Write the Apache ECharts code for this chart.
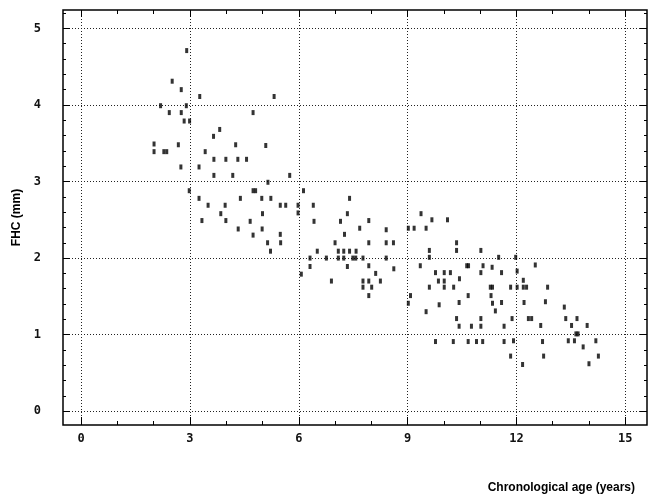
<!DOCTYPE html>
<html><head><meta charset="utf-8">
<script src="https://cdn.jsdelivr.net/npm/echarts@6/dist/echarts.min.js"></script>
<style>html,body{margin:0;padding:0;background:#fff}#c{width:648px;height:498px}</style>
</head><body><div id="c"></div>
<script>
const xTicks = [0, 3, 6, 9, 12, 15];
const xMinor = [1, 2, 4, 5, 7, 8, 10, 11, 13, 14];
const yTicks = [0, 1, 2, 3, 4, 5];
const yMinor = [0.2, 0.4, 0.6, 0.8, 1.2, 1.4, 1.6, 1.8, 2.2, 2.4, 2.6, 2.8, 3.2, 3.4, 3.6, 3.8, 4.2, 4.4, 4.6, 4.8, 5.2];
const xTitle = 'Chronological age (years)';
const yTitle = 'FHC (mm)';

const ages = [2.91,2.51,2.76,3.27,2.19,2.90,4.74,2.43,2.76,2.84,2.99,3.82,3.65,2.01,2.68,4.26,5.09,2.01,2.28,2.36,3.42,3.66,3.99,4.32,4.56,
5.32,2.75,3.25,3.66,4.18,5.15,2.98,4.74,4.81,3.25,4.39,4.98,5.23,3.50,3.97,3.85,5.00,3.33,3.99,4.66,4.33,4.99,4.74,5.14,
5.75,6.13,5.49,5.64,5.98,6.40,7.40,5.98,7.34,6.42,7.15,7.93,7.68,8.41,5.49,7.26,5.50,7.00,7.93,8.41,8.61,5.22,6.51,7.09,7.24,7.40,7.58,
6.31,6.76,7.09,7.24,7.49,7.57,7.77,8.41,6.31,7.34,7.93,8.62,6.07,8.12,6.90,7.77,7.93,8.25,7.77,8.01,7.93,
9.37,9.67,10.10,9.02,9.18,9.51,10.35,9.60,10.35,11.02,9.60,11.51,11.98,9.35,10.63,10.68,11.08,11.33,12.02,9.77,10.01,10.18,11.02,11.59,
10.43,9.85,10.01,9.60,10.01,10.27,11.28,11.34,11.84,12.02,10.67,9.08,9.02,9.87,10.42,11.34,11.59,11.42,9.51,10.35,11.02,11.88,
10.42,10.76,11.02,11.66,9.77,10.26,10.67,10.90,11.07,11.66,11.92,11.84,11.30,
12.52,12.19,12.19,12.28,12.86,12.21,12.80,13.32,12.33,12.42,13.36,13.67,12.67,13.52,13.95,13.64,13.70,12.72,13.43,13.60,14.19,13.84,12.75,14.26,12.17,14.00];
const fhc = [4.71,4.31,4.20,4.11,3.99,3.99,3.90,3.90,3.90,3.79,3.79,3.68,3.59,3.49,3.48,3.48,3.47,3.39,3.39,3.39,3.39,3.29,3.29,3.29,3.29,
4.11,3.19,3.19,3.08,3.08,2.99,2.88,2.88,2.88,2.78,2.78,2.78,2.78,2.69,2.69,2.58,2.58,2.49,2.49,2.48,2.38,2.38,2.30,2.20,
3.08,2.88,2.69,2.69,2.69,2.69,2.78,2.59,2.58,2.48,2.48,2.49,2.39,2.37,2.31,2.31,2.20,2.20,2.20,2.20,2.20,2.09,2.09,2.09,2.09,2.09,2.09,
2.00,2.00,2.00,2.00,2.00,2.00,2.00,2.00,1.89,1.89,1.90,1.86,1.79,1.80,1.70,1.70,1.70,1.70,1.62,1.62,1.51,
2.58,2.50,2.50,2.39,2.39,2.39,2.20,2.10,2.10,2.10,2.01,2.01,2.01,1.90,1.90,1.90,1.90,1.88,1.83,1.81,1.81,1.81,1.81,1.81,
1.73,1.70,1.70,1.62,1.62,1.62,1.62,1.62,1.62,1.62,1.51,1.51,1.41,1.39,1.42,1.41,1.42,1.31,1.30,1.21,1.21,1.21,
1.11,1.11,1.11,1.11,0.91,0.91,0.91,0.91,0.91,0.91,0.92,0.72,1.51,
1.91,1.71,1.62,1.62,1.62,1.42,1.43,1.36,1.21,1.21,1.21,1.21,1.12,1.12,1.12,1.01,1.01,0.91,0.92,0.92,0.92,0.84,0.72,0.72,0.61,0.62];

const points = ages.map((a, i) => [a, fhc[i]]);

const labelFont = {fontFamily: 'DejaVu Sans Mono', fontWeight: 'bold', fontSize: 12, color: '#111'};
const dotted = {show: true, lineStyle: {color: '#222', type: [1, 2], width: 1}};
const X_MIN = -0.5, X_MAX = 15.6, Y_MIN = -0.18, Y_MAX = 5.24;

function xAx(pos, vals, len, withLabel) {
  return {
    type: 'value', position: pos, min: X_MIN, max: X_MAX,
    axisLine: {show: false, onZero: false},
    axisTick: {show: true, inside: true, length: len, customValues: vals, lineStyle: {color: '#000', width: 1}},
    axisLabel: withLabel ? Object.assign({show: true, customValues: vals, margin: 8}, labelFont) : {show: false},
    splitLine: withLabel ? dotted : {show: false}
  };
}
function yAx(pos, vals, len, withLabel) {
  return {
    type: 'value', position: pos, min: Y_MIN, max: Y_MAX,
    axisLine: {show: false, onZero: false},
    axisTick: {show: true, inside: true, length: len, customValues: vals, lineStyle: {color: '#000', width: 1}},
    axisLabel: withLabel ? Object.assign({show: true, customValues: vals, margin: 22}, labelFont) : {show: false},
    splitLine: withLabel ? dotted : {show: false}
  };
}

const chart = echarts.init(document.getElementById('c'), null, {renderer: 'canvas'});
chart.setOption({
  animation: false,
  backgroundColor: '#fff',
  grid: {left: 63, right: 1, top: 10, bottom: 73, show: true, borderColor: '#000', borderWidth: 1.5, backgroundColor: 'transparent'},
  title: {text: xTitle, right: 8, top: 477, textStyle: {fontFamily: 'Liberation Sans', fontWeight: 'bold', fontSize: 12, color: '#000'}},
  xAxis: [
    xAx('bottom', xTicks, 8, true),
    xAx('bottom', xMinor, 4, false),
    xAx('top', xTicks, 7, false),
    xAx('top', xMinor, 4, false)
  ],
  yAxis: [
    Object.assign(yAx('left', yTicks, 7, true), {name: yTitle, nameLocation: 'middle', nameGap: 38, nameRotate: 90,
      nameTextStyle: {fontFamily: 'Liberation Sans', fontWeight: 'bold', fontSize: 12, color: '#000'}}),
    yAx('left', yMinor, 3, false),
    yAx('right', yTicks, 7, false),
    yAx('right', yMinor, 3, false)
  ],
  series: [{
    type: 'scatter', xAxisIndex: 0, yAxisIndex: 0,
    symbol: 'rect', symbolSize: [3, 5],
    itemStyle: {color: '#000'},
    data: points
  }]
});
</script></body></html>
